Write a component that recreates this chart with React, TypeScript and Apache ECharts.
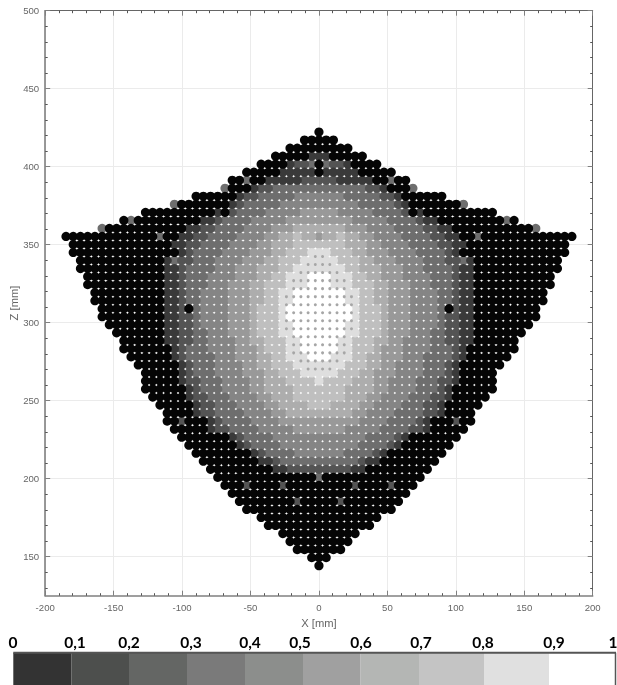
import React, { useEffect, useRef } from "react";
import * as echarts from "echarts";

// Level of every measured point, top row first; each row is centred on X = 0.
const ROWS = [
  "0",
  "00000",
  "000000000",
  "00000 111 00000",
  "0000 1 2 2 3 0 3 2 2 1 0000",
  "00000 11111 0 11111 00000",
  "00 3 00 11111 22222 11111 00 3 00",
  "3 000 122 3333333333333 221 000 3",
  "000000 1 22 33333 4444444 33333 22 1 000000",
  "3 0000000 12 33333 44444444444 33333 21 0000000 3",
  "0000000000 1 0 2 3333 44444 55555 44444 3333 2 0 1 0000000000",
  "0 3 000000000 11 2 3333 44444 555555555 44444 3333 2 11 000000000 3 0",
  "3 00000000000 11 22 3333 4444 555 6666666 555 4444 3333 22 11 00000000000 3",
  "0000000000000 3 00 11 22 3333 4444 55 66766 5 66766 55 4444 3333 22 11 00 3 0000000000000",
  "00000000000000 11 22 3333 4444 55 666 777 7 777 666 55 4444 3333 22 11 00000000000000",
  "00000000000000 0 1 2 3333 4444 555 66 777 8 8 8 777 66 555 4444 3333 2 1 0 00000000000000",
  "000000000000 1 3 22 333 4444 555 66 777 88 8 88 777 66 555 4444 333 22 3 1 000000000000",
  "000000000000 11 2 3333 444 555 666 77 888 8 888 77 666 555 444 3333 2 11 000000000000",
  "00000000000 11 2 333 4444 555 66 77 888 9 9 9 888 77 66 555 4444 333 2 11 00000000000",
  "00000000000 11 2 333 444 555 66 777 888 9 9 9 888 777 66 555 444 333 2 11 00000000000",
  "0000000000 11 2 33 4444 555 66 77 88 999 9 999 88 77 66 555 4444 33 2 11 0000000000",
  "0000000000 11 2 33 4444 555 66 77 88 999 9 999 88 77 66 555 4444 33 2 11 0000000000",
  "000000000 11 2 0 3 4444 555 6 777 8 9999 9 9999 8 777 6 555 4444 3 0 2 11 000000000",
  "000000000 11 22 3 4444 555 6 777 8 9999 9 9999 8 777 6 555 4444 3 22 11 000000000",
  "00000000 11 22 3 4444 555 6 777 88 999 9 999 88 777 6 555 4444 3 22 11 00000000",
  "0000000 11 22 33 444 555 6 777 88 999 9 999 88 777 6 555 444 33 22 11 0000000",
  "000000 11 22 33 4444 55 66 777 88 99 9 99 88 777 66 55 4444 33 22 11 000000",
  "0000000 1 2 333 4444 555 6 777 88 99 9 99 88 777 6 555 4444 333 2 1 0000000",
  "000000 1 2 3333 444 555 66 77 888 9 9 9 888 77 66 555 444 3333 2 1 000000",
  "000000 1 2 333 4444 55 66 777 888 8 888 777 66 55 4444 333 2 1 000000",
  "00000 1 2 333 4444 555 66 777 88 8 88 777 66 555 4444 333 2 1 00000",
  "00000 1 22 333 4444 55 666 7777 8 7777 666 55 4444 333 22 1 00000",
  "000000 1 2 333 4444 55 6666 777 7 777 6666 55 4444 333 2 1 000000",
  "00000 1 22 333 4444 55 666 777 7 777 666 55 4444 333 22 1 00000",
  "00000 1 22 333 4444 55 6666 7 7 7 6666 55 4444 333 22 1 00000",
  "0000 1 22 3333 4444 55 6666 6 6666 55 4444 3333 22 1 0000",
  "00 2 000 1 2 3333 4444 55555 5 55555 4444 3333 2 1 000 2 00",
  "00000 1 22 3333 44444 555 5 555 44444 3333 22 1 00000",
  "0000000 1 2 3333 444444 4 444444 3333 2 1 0000000",
  "0000000 1 2 3333 44444 4 44444 3333 2 1 0000000",
  "00000000 1 2 3333 444 4 444 3333 2 1 00000000",
  "00000000 11 2 33333 3 33333 2 11 00000000",
  "000000000 11 2222 2 2222 11 000000000",
  "00000000000000 3 00000000000000",
  "000 2 0000 2 0000 0 0000 2 0000 2 000",
  "0000000000000000000000000",
  "00000000 2 00 0 00 2 00000000",
  "000000000000000000000",
  "00000000000000000",
  "000000000000000",
  "00000000000",
  "000000000",
  "0000000",
  "000",
  "0",
];

const LEVEL_COLORS = ["#050505", "#3a3a3a", "#545454", "#6e6e6e", "#858585", "#999999", "#adadad", "#bfbfbf", "#dedede", "#ffffff"];
const DRAW_ORDER = [4, 5, 3, 6, 2, 7, 1, 8, 0, 9];
const TOP_Z = 422.2;
const PITCH_Z = 5.147;
const PITCH_X = 5.28;

const X_TICKS_MIN = -200;
const X_TICKS_MAX = 200;
const Z_MIN = 125;
const Z_MAX = 500;
const Z_MAJOR = [150, 200, 250, 300, 350, 400, 450, 500];
const Z_MINOR = [130, 140, 160, 170, 180, 190, 210, 220, 230, 240, 260, 270, 280, 290, 310, 320, 330, 340, 360, 370, 380, 390, 410, 420, 430, 440, 460, 470, 480, 490];

const LEGEND_TEXT = ["0", "0,1", "0,2", "0,3", "0,4", "0,5", "0,6", "0,7", "0,8", "0,9", "1"];
const LEGEND_COLORS = ["#333333", "#4d4f4d", "#646664", "#7a7a7a", "#8c8e8c", "#a0a0a0", "#b4b6b4", "#c4c4c4", "#e0e0e0", "#ffffff"];

const LEGEND_EDGES = [13.3, 71.3, 129, 187, 245, 303, 360.6, 419, 484, 549, 616];
const LEGEND_TEXT_X = [13, 75, 129, 191, 250, 300, 361, 421, 483, 554, 613];

const cells: { r: number; c: number; level: number }[] = [];
const lookup = new Map<string, number>();
ROWS.forEach((row, r) => {
  const digits = row.replace(/ /g, "");
  const half = (digits.length - 1) / 2;
  digits.split("").forEach((d, i) => {
    const c = i - half;
    cells.push({ r, c, level: Number(d) });
    lookup.set(r + ":" + c, Number(d));
  });
});

const toPoint = (r: number, c: number) => [c * PITCH_X, TOP_Z - r * PITCH_Z];

const pointSeries = DRAW_ORDER.map((level) => ({
  type: "scatter",
  name: "level " + level,
  silent: true,
  symbol: "circle",
  symbolSize: 9.2,
  itemStyle: { color: LEVEL_COLORS[level], opacity: 1 },
  data: cells.filter((p) => p.level === level).map((p) => toPoint(p.r, p.c)),
  clip: false,
  z: 3,
}));

// Small grey sample marks that show in the gaps between the bright points.
const brightGaps: number[][] = [];
cells.forEach(({ r, c, level }) => {
  const others = [lookup.get(r + ":" + (c + 1)), lookup.get(r + 1 + ":" + c), lookup.get(r + 1 + ":" + (c + 1))];
  if (others.some((v) => v === undefined)) return;
  const low = Math.min(level, ...(others as number[]));
  if (low >= 8) brightGaps.push(toPoint(r + 0.5, c + 0.5));
});

const axisGrey = "#808080";
const gridGrey = "#ebebeb";
const labelStyle = { color: "#666666", fontFamily: "Liberation Sans", fontSize: 9.6 };

const App = () => {
  const ref = useRef<HTMLDivElement>(null);
  useEffect(() => {
    const chart = echarts.init(ref.current!, undefined, { renderer: "svg" });
    const zAxisBase = { type: "value", min: Z_MIN, max: Z_MAX, interval: 25, axisLine: { show: false, onZero: false }, axisLabel: { show: false }, splitLine: { show: false } };
    const xTickBase = { min: X_TICKS_MIN, max: X_TICKS_MAX, interval: 50 };
    chart.setOption({
      animation: false,
      backgroundColor: "#ffffff",
      grid: { left: 45.2, top: 10.7, width: 547.5, height: 585, containLabel: false, outerBoundsMode: "none", show: false },
      xAxis: [
        {
          type: "value",
          ...xTickBase,
          position: "bottom",
          name: "X [mm]",
          nameLocation: "middle",
          nameGap: 22,
          nameTextStyle: { ...labelStyle, fontSize: 11.2 },
          axisLine: { onZero: false, lineStyle: { color: axisGrey, width: 1.6 } },
          axisTick: { inside: true, length: 5, lineStyle: { color: axisGrey, width: 1 } },
          minorTick: { show: true, splitNumber: 5, length: 2.5, lineStyle: { color: "#555555", width: 1 } },
          axisLabel: { ...labelStyle, margin: 7 },
          splitLine: { show: true, lineStyle: { color: gridGrey, width: 1 } },
        },
        {
          type: "value",
          ...xTickBase,
          position: "top",
          axisLine: { onZero: false, lineStyle: { color: "#666666", width: 1 } },
          axisTick: { inside: true, length: 5, lineStyle: { color: axisGrey, width: 1 } },
          minorTick: { show: true, splitNumber: 5, length: 2.5, lineStyle: { color: "#555555", width: 1 } },
          axisLabel: { show: false },
          splitLine: { show: false },
        },
      ],
      yAxis: [
        {
          ...zAxisBase,
          position: "left",
          axisLine: { show: true, onZero: false, lineStyle: { color: axisGrey, width: 1.6 } },
          axisTick: { show: true, inside: true, length: 5, customValues: Z_MAJOR, lineStyle: { color: axisGrey, width: 1 } },
          axisLabel: { ...labelStyle, margin: 6, customValues: Z_MAJOR, show: true },
          splitLine: { show: true, lineStyle: { color: gridGrey, width: 1 } },
        },
        {
          ...zAxisBase,
          position: "left",
          axisTick: { show: true, inside: true, length: 2.5, customValues: Z_MINOR, lineStyle: { color: "#555555", width: 1 } },
        },
        {
          ...zAxisBase,
          position: "right",
          axisLine: { show: true, onZero: false, lineStyle: { color: "#666666", width: 1 } },
          axisTick: { show: true, inside: true, length: 5, customValues: Z_MAJOR, lineStyle: { color: axisGrey, width: 1 } },
        },
        {
          ...zAxisBase,
          position: "right",
          axisTick: { show: true, inside: true, length: 2.5, customValues: Z_MINOR, lineStyle: { color: "#555555", width: 1 } },
        },
      ],
      series: [
        ...pointSeries,
        {
          type: "scatter",
          name: "gaps bright",
          silent: true,
          symbolSize: 3,
          itemStyle: { color: "#a6a6a6", opacity: 1 },
          data: brightGaps,
          z: 4,
        },
      ],
      graphic: [
        {
          type: "text",
          x: 13.5,
          y: 303,
          rotation: Math.PI / 2,
          style: { text: "Z [mm]", fill: "#666666", font: "11.2px Liberation Sans", textAlign: "center", textVerticalAlign: "middle" },
        },
        ...LEGEND_COLORS.map((color, i) => ({
          type: "rect",
          shape: { x: LEGEND_EDGES[i], y: 652.7, width: LEGEND_EDGES[i + 1] - LEGEND_EDGES[i], height: 34 },
          style: { fill: color },
        })),
        { type: "line", shape: { x1: 13.3, y1: 652.7, x2: 616, y2: 652.7 }, style: { stroke: "#555555", lineWidth: 2 } },
        { type: "line", shape: { x1: 615.5, y1: 652.7, x2: 615.5, y2: 685 }, style: { stroke: "#555555", lineWidth: 1.5 } },
        ...LEGEND_TEXT.map((text, i) => ({
          type: "text",
          x: LEGEND_TEXT_X[i],
          y: 641.7,
          style: { text, fill: "#000000", font: "bold 15.5px Lato", textAlign: "center", textVerticalAlign: "middle" },
        })),
      ],
    });
    return () => chart.dispose();
  }, []);
  return <div ref={ref} style={{ position: "fixed", left: 0, top: 0, width: 617, height: 685, background: "#fff", filter: "blur(0.45px)" }} />;
};

export default App;
